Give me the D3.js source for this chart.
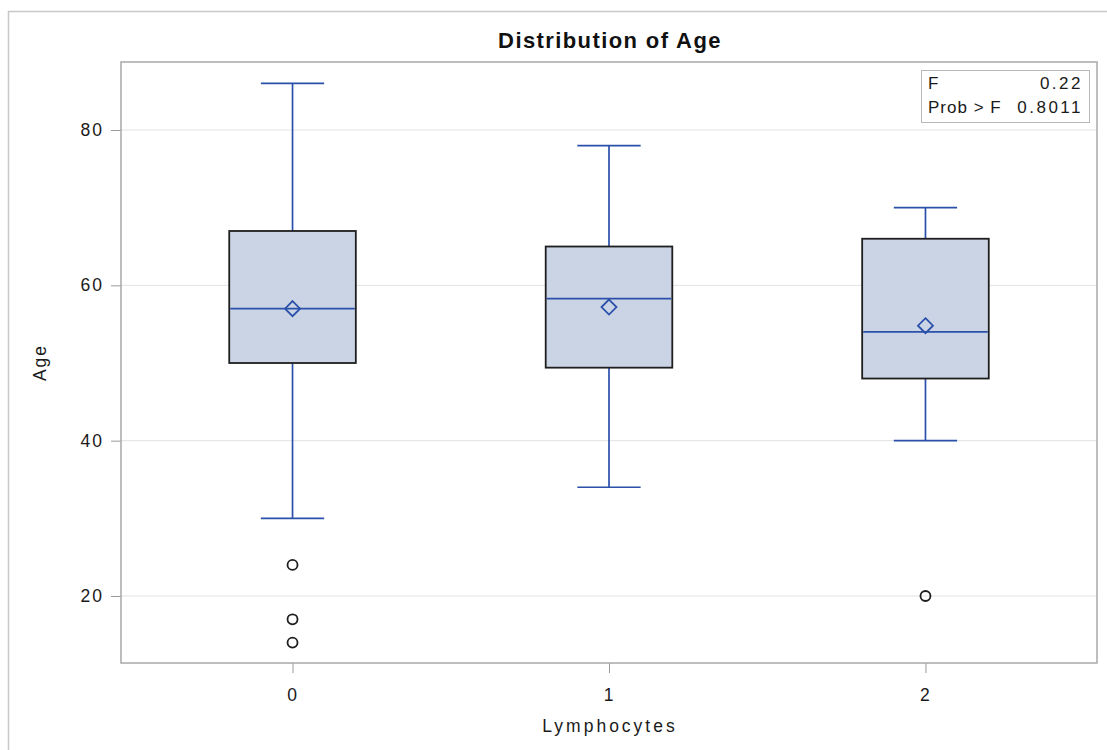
<!DOCTYPE html>
<html>
<head>
<meta charset="utf-8">
<script src="https://cdn.jsdelivr.net/npm/d3@7"></script>
<style>
  body { margin: 0; background: #fff; }
  text { font-family: "Liberation Sans", Arial, sans-serif; }
</style>
</head>
<body>
<div id="chart"></div>
<script>
// box plot summary values
const groups = ["0", "1", "2"];
const whiskerLow = [30, 34, 40];
const q1 = [50, 49.4, 48];
const median = [57, 58.3, 54];
const q3 = [67, 65, 66];
const whiskerHigh = [86, 78, 70];
const means = [57, 57.2, 54.8];
const outliers = [[24, 17, 14], [], [20]];
const yTicks = [20, 40, 60, 80];
const statLabels = ["F", "Prob > F"];
const statValues = ["0.22", "0.8011"];

const width = 1107, height = 750;
const plot = {left: 121, right: 1097, top: 62, bottom: 663};
const blue = "#2a50aa";

const svg = d3.select("#chart").append("svg")
    .attr("width", width)
    .attr("height", height);

// outer frame
svg.append("rect")
    .attr("x", 8.5).attr("y", 11.5)
    .attr("width", width + 10).attr("height", height + 10)
    .attr("fill", "none").attr("stroke", "#c8c8c8").attr("stroke-width", 1.5);

const xScale = d3.scalePoint()
    .domain(groups)
    .range([plot.left, plot.right])
    .padding(0.542);

const yScale = d3.scaleLinear()
    .domain([11.37, 88.76])
    .range([plot.bottom, plot.top]);

const step = xScale.step();
const boxW = step * 0.4;

// gridlines
svg.append("g")
    .selectAll("line")
    .data(yTicks)
    .enter().append("line")
    .attr("x1", plot.left).attr("x2", plot.right)
    .attr("y1", d => yScale(d)).attr("y2", d => yScale(d))
    .attr("stroke", "#e2e2e2").attr("stroke-width", 1);

// axes
const yAxis = svg.append("g")
    .attr("transform", `translate(${plot.left},0)`)
    .call(d3.axisLeft(yScale).tickValues(yTicks).tickSize(10).tickPadding(7));
const xAxis = svg.append("g")
    .attr("transform", `translate(0,${plot.bottom})`)
    .call(d3.axisBottom(xScale).tickSize(10).tickPadding(16));
[yAxis, xAxis].forEach(a => {
    a.select(".domain").remove();
    a.selectAll("line").attr("stroke", "#9a9a9a");
    a.selectAll("text").attr("fill", "#1a1a1a")
        .style("font-size", "17.5px")
        .style("letter-spacing", "2px")
        .style("font-family", "'Liberation Sans', Arial, sans-serif");
});

// plot frame
svg.append("rect")
    .attr("x", plot.left).attr("y", plot.top)
    .attr("width", plot.right - plot.left).attr("height", plot.bottom - plot.top)
    .attr("fill", "none").attr("stroke", "#a8a8a8").attr("stroke-width", 1.5);

// boxes
const g = svg.append("g");
groups.forEach((grp, i) => {
    const cx = xScale(grp);
    // whiskers
    g.append("line")
        .attr("x1", cx).attr("x2", cx)
        .attr("y1", yScale(whiskerHigh[i])).attr("y2", yScale(q3[i]))
        .attr("stroke", blue).attr("stroke-width", 1.7);
    g.append("line")
        .attr("x1", cx).attr("x2", cx)
        .attr("y1", yScale(q1[i])).attr("y2", yScale(whiskerLow[i]))
        .attr("stroke", blue).attr("stroke-width", 1.7);
    [whiskerHigh[i], whiskerLow[i]].forEach(v => {
        g.append("line")
            .attr("x1", cx - boxW / 4).attr("x2", cx + boxW / 4)
            .attr("y1", yScale(v)).attr("y2", yScale(v))
            .attr("stroke", blue).attr("stroke-width", 1.7);
    });
    // box
    g.append("rect")
        .attr("x", cx - boxW / 2).attr("y", yScale(q3[i]))
        .attr("width", boxW).attr("height", yScale(q1[i]) - yScale(q3[i]))
        .attr("fill", "#cbd4e4").attr("stroke", "#1e1e1e").attr("stroke-width", 1.8);
    // median
    g.append("line")
        .attr("x1", cx - boxW / 2 + 1).attr("x2", cx + boxW / 2 - 1)
        .attr("y1", yScale(median[i])).attr("y2", yScale(median[i]))
        .attr("stroke", blue).attr("stroke-width", 1.7);
    // mean diamond
    const my = yScale(means[i]);
    g.append("path")
        .attr("d", `M${cx},${my - 7.5}L${cx + 7.5},${my}L${cx},${my + 7.5}L${cx - 7.5},${my}Z`)
        .attr("fill", "none").attr("stroke", blue).attr("stroke-width", 1.8);
    // outliers
    g.selectAll(null)
        .data(outliers[i])
        .enter().append("circle")
        .attr("cx", cx).attr("cy", d => yScale(d))
        .attr("r", 5)
        .attr("fill", "none").attr("stroke", "#1e1e1e").attr("stroke-width", 1.8);
});

// F stat inset
const inset = svg.append("g");
inset.append("rect")
    .attr("x", 921.5).attr("y", 70.5)
    .attr("width", 168).attr("height", 52)
    .attr("fill", "#fff").attr("stroke", "#b8b8b8").attr("stroke-width", 1);
statLabels.forEach((lab, i) => {
    inset.append("text")
        .attr("x", 928).attr("y", 89 + i * 24)
        .style("font-size", "17px").style("letter-spacing", "1px").attr("fill", "#1a1a1a")
        .text(lab);
    inset.append("text")
        .attr("x", 1083).attr("y", 89 + i * 24)
        .attr("text-anchor", "end")
        .style("font-size", "17px").style("letter-spacing", "2.5px").attr("fill", "#1a1a1a")
        .text(statValues[i]);
});

// title and axis labels
svg.append("text")
    .attr("x", (plot.left + plot.right) / 2 + 1).attr("y", 48)
    .attr("text-anchor", "middle")
    .style("font-size", "22px").style("font-weight", "bold")
    .style("letter-spacing", "1.4px").attr("fill", "#111")
    .text("Distribution of Age");

svg.append("text")
    .attr("x", (plot.left + plot.right) / 2 + 1).attr("y", 732)
    .attr("text-anchor", "middle")
    .style("font-size", "17.5px").style("letter-spacing", "3px").attr("fill", "#1a1a1a")
    .text("Lymphocytes");

svg.append("text")
    .attr("transform", `translate(46,${(plot.top + plot.bottom) / 2}) rotate(-90)`)
    .attr("text-anchor", "middle")
    .style("font-size", "17.5px").style("letter-spacing", "2px").attr("fill", "#1a1a1a")
    .text("Age");
</script>
</body>
</html>
